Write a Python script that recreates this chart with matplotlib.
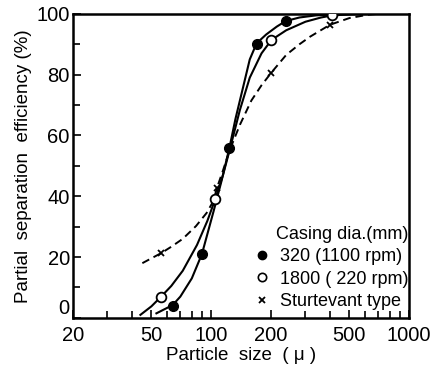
import numpy as np
import matplotlib.pyplot as plt
from matplotlib.ticker import FixedLocator, NullFormatter, FixedFormatter
from matplotlib.lines import Line2D

plt.rcParams['font.family'] = ['Liberation Sans', 'DejaVu Sans']

# ------------------------------------------------------------
# measured points (read off the figure)
# ------------------------------------------------------------
size_320 = [64, 90, 124, 170, 238]
eff_320 = [4, 21, 56, 90, 97.8]

size_1800 = [56, 105, 202, 411]
eff_1800 = [7, 39, 91.4, 99.5]

size_sturt = [56, 107, 124, 202, 399]
eff_sturt = [21.3, 42.6, 55.5, 80.7, 96.4]

# hand-drawn fitted curves
curve_320_x = [53, 58, 64, 70, 80, 90, 103, 113, 124, 133, 143, 157, 170, 190, 215, 238, 280, 340, 420, 550, 700]
curve_320_y = [1.5, 2.8, 4.2, 7, 13, 21, 35, 45, 56, 65.5, 74, 85, 90.3, 93.2, 95.8, 97.6, 98.8, 99.5, 99.8, 100, 100]

curve_1800_x = [44, 50, 56, 63, 72, 85, 96, 105, 115, 124, 140, 157, 180, 202, 240, 300, 360, 411, 500, 700]
curve_1800_y = [1, 3.8, 7, 10.5, 15.5, 24, 32, 39, 47, 55, 68.4, 79, 87, 91.4, 94.6, 97.4, 98.8, 99.5, 99.8, 100]

curve_sturt_x = [45, 50, 56, 63, 72, 84, 95, 103, 107, 115, 124, 140, 160, 180, 202, 240, 280, 317, 399, 500, 620, 700]
curve_sturt_y = [18, 19.6, 21.3, 23.4, 26, 30.2, 34.5, 38.5, 42.6, 48.5, 55, 63.5, 71.5, 76.5, 80.7, 86.5, 90, 92.5, 96.4, 98.6, 99.7, 100]

xticks_major = [20, 50, 100, 200, 500, 1000]
xticks_minor = [30, 40, 60, 70, 80, 90, 300, 400, 600, 700, 800, 900]
yticks_major = [0, 20, 40, 60, 80, 100]
yticks_minor = [10, 30, 50, 70, 90]

# ------------------------------------------------------------
# figure
# ------------------------------------------------------------
fig = plt.figure(figsize=(4.35, 3.74), dpi=100)
ax = fig.add_axes([0.167, 0.150, 0.773, 0.813])

ax.plot(curve_320_x, curve_320_y, "k-", lw=1.5)
ax.plot(curve_1800_x, curve_1800_y, "k-", lw=1.5)
ax.plot(curve_sturt_x, curve_sturt_y, "k--", lw=1.4, dashes=(4, 2.5))

ax.plot(size_320, eff_320, "o", color="k", ms=7, zorder=5)
ax.plot(size_1800, eff_1800, "o", mfc="white", mec="k", mew=1.3, ms=7, zorder=5)
ax.plot(size_sturt, eff_sturt, "x", color="k", ms=4, mew=1.3, zorder=5)

ax.set_xscale("log")
ax.set_xlim(20, 1000)
ax.set_ylim(0, 100)

ax.xaxis.set_major_locator(FixedLocator(xticks_major))
ax.xaxis.set_major_formatter(FixedFormatter([str(v) for v in xticks_major]))
ax.xaxis.set_minor_locator(FixedLocator(xticks_minor))
ax.xaxis.set_minor_formatter(NullFormatter())
ax.yaxis.set_major_locator(FixedLocator(yticks_major))
ax.yaxis.set_minor_locator(FixedLocator(yticks_minor))

ax.tick_params(which="both", direction="in", width=1.2, labelsize=14.5, pad=2)
ax.tick_params(which="major", length=6)
ax.tick_params(which="minor", length=5)
ax.tick_params(axis="x", pad=6)
for s in ax.spines.values():
    s.set_linewidth(1.8)

# the "0" sits just above the corner so it clears the "20" below it
ax.yaxis.get_major_ticks()[0].label1.set_va("bottom")

ax.set_xlabel("Particle  size  ( μ )", fontsize=13.5, labelpad=1)
ax.set_ylabel("Partial  separation  efficiency (%)", fontsize=13.5, labelpad=3)

handles = [
    Line2D([], [], ls="none", marker="o", color="k", ms=6),
    Line2D([], [], ls="none", marker="o", mfc="white", mec="k", mew=1.2, ms=6),
    Line2D([], [], ls="none", marker="x", color="k", ms=4, mew=1.3),
]
labels = ["320 (1100 rpm)", "1800 ( 220 rpm)", "Sturtevant type"]
leg = ax.legend(handles, labels, title="Casing dia.(mm)", loc="lower right",
                frameon=False, fontsize=13, title_fontsize=13,
                handlelength=0.8, handletextpad=0.6, labelspacing=0.3,
                borderaxespad=0.2, bbox_to_anchor=(1.03, -0.01))
leg._legend_box.align = "right"

fig.savefig("out.png", dpi=100)
